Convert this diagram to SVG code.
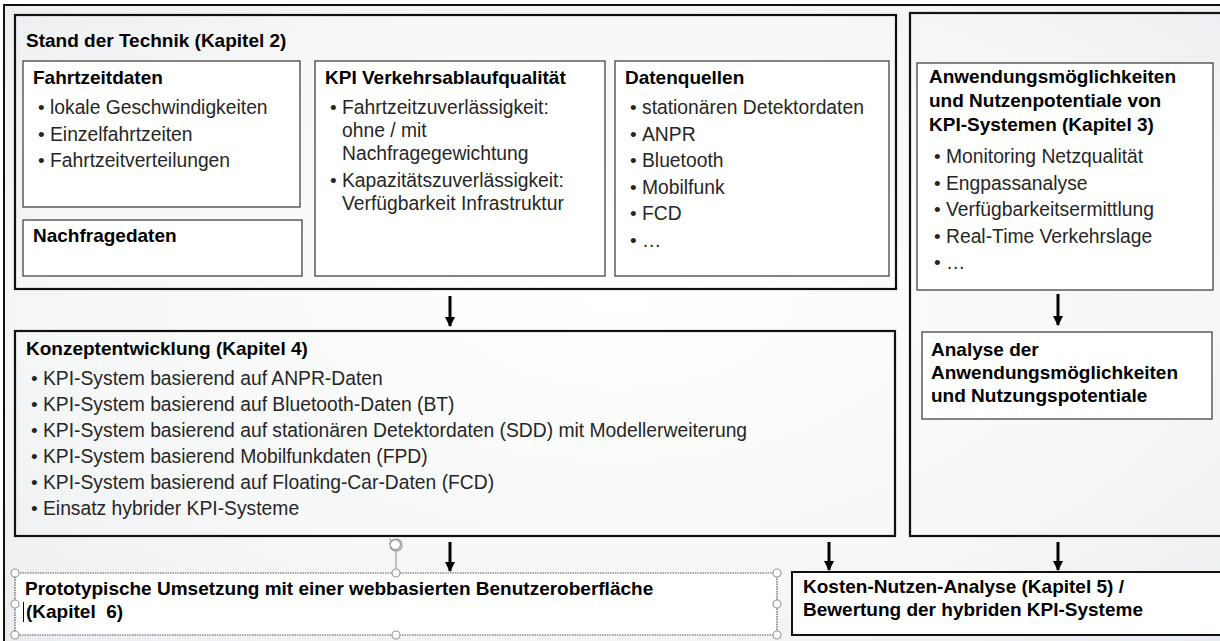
<svg xmlns="http://www.w3.org/2000/svg" width="1220" height="641" viewBox="0 0 1220 641">
<defs>
<radialGradient id="bg" cx="0.5" cy="0.45" r="0.75">
<stop offset="0" stop-color="#ffffff"/>
<stop offset="0.6" stop-color="#f6f7f8"/>
<stop offset="1" stop-color="#e9ecef"/>
</radialGradient>
<marker id="ah" viewBox="0 0 10 10" refX="9" refY="5" markerWidth="10" markerHeight="10" markerUnits="userSpaceOnUse" orient="auto">
<path d="M0,0 L10,5 L0,10 Z" fill="#000"/>
</marker>
<style>
.outer{fill:none;stroke:#111;stroke-width:2.2}
.inner{fill:#fff;stroke:#444;stroke-width:1.3}
.h{font-family:"Liberation Sans",Arial,sans-serif;font-size:19px;font-weight:bold;fill:#000}
.t{font-family:"Liberation Sans",Arial,sans-serif;font-size:19.3px;fill:#262626}
.b{font-family:"Liberation Sans",Arial,sans-serif;font-size:19px;fill:#262626}
.arr{stroke:#000;stroke-width:3;fill:none}
.hd{fill:#fff;stroke:#9a9a9a;stroke-width:1.2}
</style>
</defs>
<rect x="0" y="0" width="1220" height="641" fill="#fff"/>
<rect x="4" y="5" width="1230" height="650" fill="url(#bg)" stroke="#111" stroke-width="2"/>

<g id="stand-der-technik">
<rect class="outer" x="15" y="15" width="881" height="274" fill="none"/>
<text class="h" x="26" y="47">Stand der Technik (Kapitel 2)</text>
</g>

<g id="fahrtzeitdaten">
<rect class="inner" x="23" y="61" width="277" height="146"/>
<text class="h" x="33" y="84">Fahrtzeitdaten</text>
<text class="b" x="38" y="114">•</text><text class="t" x="50" y="114">lokale Geschwindigkeiten</text>
<text class="b" x="38" y="140.5">•</text><text class="t" x="50" y="140.5">Einzelfahrtzeiten</text>
<text class="b" x="38" y="167">•</text><text class="t" x="50" y="167">Fahrtzeitverteilungen</text>
</g>

<g id="nachfragedaten">
<rect class="inner" x="23" y="220" width="279" height="56"/>
<text class="h" x="33" y="242">Nachfragedaten</text>
</g>

<g id="kpi-verkehrsablaufqualitaet">
<rect class="inner" x="315" y="61" width="290" height="215"/>
<text class="h" x="325" y="84">KPI Verkehrsablaufqualität</text>
<text class="b" x="330" y="114">•</text><text class="t" x="342" y="114">Fahrtzeitzuverlässigkeit:</text>
<text class="t" x="342" y="137">ohne / mit</text>
<text class="t" x="342" y="160">Nachfragegewichtung</text>
<text class="b" x="330" y="187">•</text><text class="t" x="342" y="187">Kapazitätszuverlässigkeit:</text>
<text class="t" x="342" y="210">Verfügbarkeit Infrastruktur</text>
</g>

<g id="datenquellen">
<rect class="inner" x="615" y="61" width="274" height="215"/>
<text class="h" x="625" y="84">Datenquellen</text>
<text class="b" x="630" y="114">•</text><text class="t" x="642" y="114">stationären Detektordaten</text>
<text class="b" x="630" y="140.5">•</text><text class="t" x="642" y="140.5">ANPR</text>
<text class="b" x="630" y="167">•</text><text class="t" x="642" y="167">Bluetooth</text>
<text class="b" x="630" y="193.5">•</text><text class="t" x="642" y="193.5">Mobilfunk</text>
<text class="b" x="630" y="220">•</text><text class="t" x="642" y="220">FCD</text>
<text class="b" x="630" y="246.5">•</text><text class="t" x="642" y="246.5">…</text>
</g>

<g id="anwendung-outer">
<rect class="outer" x="910" y="13" width="320" height="523" fill="none"/>
</g>

<g id="anwendungsmoeglichkeiten">
<rect class="inner" x="917" y="63" width="296" height="227"/>
<text class="h" x="929" y="83">Anwendungsmöglichkeiten</text>
<text class="h" x="929" y="107">und Nutzenpotentiale von</text>
<text class="h" x="929" y="131">KPI-Systemen (Kapitel 3)</text>
<text class="b" x="934" y="163">•</text><text class="t" x="946" y="163">Monitoring Netzqualität</text>
<text class="b" x="934" y="189.5">•</text><text class="t" x="946" y="189.5">Engpassanalyse</text>
<text class="b" x="934" y="216">•</text><text class="t" x="946" y="216">Verfügbarkeitsermittlung</text>
<text class="b" x="934" y="242.5">•</text><text class="t" x="946" y="242.5">Real-Time Verkehrslage</text>
<text class="b" x="934" y="269">•</text><text class="t" x="946" y="269">…</text>
</g>

<g id="analyse">
<rect class="inner" x="922" y="332" width="290" height="87"/>
<text class="h" x="931" y="356">Analyse der</text>
<text class="h" x="931" y="379">Anwendungsmöglichkeiten</text>
<text class="h" x="931" y="402">und Nutzungspotentiale</text>
</g>

<g id="konzeptentwicklung">
<rect class="outer" x="15" y="331" width="880" height="205" fill="#fff"/>
<text class="h" x="26" y="355">Konzeptentwicklung (Kapitel 4)</text>
<text class="b" x="31" y="385">•</text><text class="t" x="43" y="385">KPI-System basierend auf ANPR-Daten</text>
<text class="b" x="31" y="411">•</text><text class="t" x="43" y="411">KPI-System basierend auf Bluetooth-Daten (BT)</text>
<text class="b" x="31" y="437">•</text><text class="t" x="43" y="437">KPI-System basierend auf stationären Detektordaten (SDD) mit Modellerweiterung</text>
<text class="b" x="31" y="463">•</text><text class="t" x="43" y="463">KPI-System basierend Mobilfunkdaten (FPD)</text>
<text class="b" x="31" y="489">•</text><text class="t" x="43" y="489">KPI-System basierend auf Floating-Car-Daten (FCD)</text>
<text class="b" x="31" y="515">•</text><text class="t" x="43" y="515">Einsatz hybrider KPI-Systeme</text>
</g>

<g id="prototyp">
<rect x="15" y="573" width="762" height="62" fill="#fff" stroke="#555" stroke-width="1.2" stroke-dasharray="1.5 1"/>
<text class="h" x="25" y="595">Prototypische Umsetzung mit einer webbasierten Benutzeroberfläche</text>
<text class="h" x="26" y="618">(Kapitel&#160; 6)</text>
<line x1="23.5" y1="602" x2="23.5" y2="622" stroke="#000" stroke-width="1"/>
<line x1="396" y1="551" x2="396" y2="573" stroke="#9a9a9a" stroke-width="1.2"/>
<circle class="hd" cx="15" cy="573" r="4"/>
<circle class="hd" cx="396" cy="573" r="4"/>
<circle class="hd" cx="777" cy="573" r="4"/>
<circle class="hd" cx="15" cy="604" r="4"/>
<circle class="hd" cx="777" cy="604" r="4"/>
<circle class="hd" cx="15" cy="635" r="4"/>
<circle class="hd" cx="396" cy="635" r="4"/>
<circle class="hd" cx="777" cy="635" r="4"/>
<circle cx="396" cy="545" r="6" fill="#fff" stroke="#9a9a9a" stroke-width="1.2"/>
<path d="M392,541 A5,5 0 1 1 391,547" fill="none" stroke="#9a9a9a" stroke-width="1.2"/>
<path d="M389,539 L392,541 L389,544" fill="none" stroke="#9a9a9a" stroke-width="1.2"/>
</g>

<g id="kosten-nutzen">
<rect x="792" y="572" width="440" height="63" fill="#fff" stroke="#111" stroke-width="2"/>
<text class="h" x="803" y="593">Kosten-Nutzen-Analyse (Kapitel 5) /</text>
<text class="h" x="803" y="616">Bewertung der hybriden KPI-Systeme</text>
</g>

<g id="connectors">
<line class="arr" x1="450" y1="296" x2="450" y2="326" marker-end="url(#ah)"/>
<line class="arr" x1="1058" y1="294" x2="1058" y2="325" marker-end="url(#ah)"/>
<line class="arr" x1="450" y1="542" x2="450" y2="571" marker-end="url(#ah)"/>
<line class="arr" x1="829" y1="542" x2="829" y2="570" marker-end="url(#ah)"/>
<line class="arr" x1="1058" y1="542" x2="1058" y2="570" marker-end="url(#ah)"/>
</g>
</svg>
